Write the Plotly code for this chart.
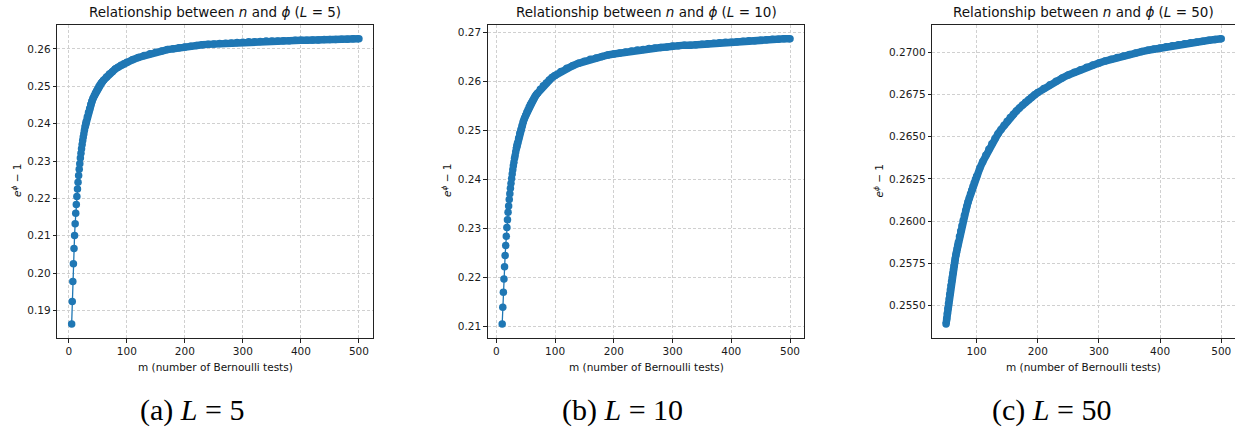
import plotly.graph_objects as go

# ---------------- data ----------------
m_a = list(range(5, 31)) + list(range(32, 61, 2)) + list(range(65, 101, 5)) + list(range(110, 501, 10))
v_a = [0.1864, 0.1924, 0.1978, 0.2025, 0.2066, 0.2101, 0.2132, 0.2160, 0.2184, 0.2205,
       0.2225, 0.2243, 0.2261, 0.2278, 0.2293, 0.2308, 0.2321, 0.2333, 0.2344, 0.2355,
       0.2364, 0.2373, 0.2382, 0.2390, 0.2398, 0.2405,
       0.2418, 0.2430, 0.2440, 0.2451, 0.2460, 0.2468, 0.2475, 0.2482, 0.2488, 0.2493,
       0.2499, 0.2504, 0.2509, 0.2512, 0.2516,
       0.2525, 0.2533, 0.2539, 0.2546, 0.2551, 0.2556, 0.2560, 0.2564,
       0.2571, 0.2577, 0.2582, 0.2587, 0.2591, 0.2594, 0.2598, 0.2600, 0.2603, 0.2605,
       0.2607, 0.2609, 0.2611, 0.2612, 0.2613, 0.2614, 0.2615, 0.2616, 0.2617, 0.2618,
       0.2619, 0.2619, 0.2620, 0.2621, 0.2621, 0.2621, 0.2622, 0.2622, 0.2623, 0.2623,
       0.2623, 0.2624, 0.2624, 0.2625, 0.2625, 0.2625, 0.2626, 0.2626, 0.2627, 0.2627]

m_b = list(range(10, 37)) + list(range(38, 71, 2)) + list(range(75, 101, 5)) + list(range(110, 501, 10))
v_b = [0.2105, 0.2139, 0.2170, 0.2197, 0.2222, 0.2245, 0.2265, 0.2284, 0.2302, 0.2318,
       0.2333, 0.2346, 0.2359, 0.2371, 0.2382, 0.2392, 0.2402, 0.2411, 0.2420, 0.2428,
       0.2435, 0.2443, 0.2449, 0.2456, 0.2462, 0.2468, 0.2474,
       0.2484, 0.2494, 0.2502, 0.2510, 0.2518, 0.2525, 0.2531, 0.2537, 0.2542, 0.2548,
       0.2553, 0.2557, 0.2561, 0.2565, 0.2569, 0.2573, 0.2576,
       0.2584, 0.2591, 0.2597, 0.2603, 0.2608, 0.2612,
       0.2620, 0.2627, 0.2632, 0.2637, 0.2641, 0.2645, 0.2648, 0.2651, 0.2654, 0.2656,
       0.2658, 0.2660, 0.2662, 0.2664, 0.2665, 0.2667, 0.2668, 0.2669, 0.2670, 0.2672,
       0.2673, 0.2674, 0.2674, 0.2675, 0.2676, 0.2677, 0.2678, 0.2679, 0.2680, 0.2680,
       0.2681, 0.2682, 0.2683, 0.2683, 0.2684, 0.2685, 0.2686, 0.2686, 0.2687, 0.2687]

m_c = list(range(50, 71)) + list(range(72, 101, 2)) + list(range(105, 201, 5)) + list(range(210, 501, 10))
v_c = [0.25390, 0.25422, 0.25453, 0.25482, 0.25511, 0.25539, 0.25566, 0.25592, 0.25618, 0.25642,
       0.25666, 0.25690, 0.25712, 0.25734, 0.25756, 0.25776, 0.25797, 0.25816, 0.25836, 0.25854,
       0.25873,
       0.25908, 0.25941, 0.25973, 0.26004, 0.26033, 0.26061, 0.26087, 0.26113, 0.26137, 0.26161,
       0.26183, 0.26205, 0.26226, 0.26246, 0.26265,
       0.26311, 0.26352, 0.26390, 0.26426, 0.26458, 0.26489, 0.26517, 0.26543, 0.26568, 0.26591,
       0.26613, 0.26633, 0.26652, 0.26670, 0.26688, 0.26704, 0.26719, 0.26734, 0.26748, 0.26761,
       0.26786, 0.26808, 0.26829, 0.26848, 0.26866, 0.26882, 0.26897, 0.26911, 0.26924, 0.26936,
       0.26948, 0.26959, 0.26969, 0.26978, 0.26987, 0.26996, 0.27004, 0.27012, 0.27019, 0.27026,
       0.27033, 0.27039, 0.27045, 0.27051, 0.27056, 0.27061, 0.27066, 0.27071, 0.27076, 0.27080]

L_values = [5, 10, 50]
captions = ["(a)", "(b)", "(c)"]
x_ticks_a = [0, 100, 200, 300, 400, 500]
x_ticks_b = [0, 100, 200, 300, 400, 500]
x_ticks_c = [100, 200, 300, 400, 500]
y_ticks_a = [0.19, 0.20, 0.21, 0.22, 0.23, 0.24, 0.25, 0.26]
y_ticks_b = [0.21, 0.22, 0.23, 0.24, 0.25, 0.26, 0.27]
y_ticks_c = [0.2550, 0.2575, 0.2600, 0.2625, 0.2650, 0.2675, 0.2700]

# ---------------- layout ----------------
W, H = 1235, 432
BLUE = "#1f77b4"
TOP, BOT = 24.5, 338.3

panels = [
    dict(m=m_a, v=v_a, box=(57.3, 373.3), xr=[-19.75, 524.75], yr=[0.182585, 0.266515],
         xt=x_ticks_a, yt=y_ticks_a, fmt=".2f", band=28, ylab_x=16, cap_x=192),
    dict(m=m_b, v=v_b, box=(487.8, 804.4), xr=[-14.5, 524.5], yr=[0.20759, 0.27161],
         xt=x_ticks_b, yt=y_ticks_b, fmt=".2f", band=34, ylab_x=446, cap_x=622),
    dict(m=m_c, v=v_c, box=(932.3, 1235.0), xr=[27.5, 522.5], yr=[0.253055, 0.271645],
         xt=x_ticks_c, yt=y_ticks_c, fmt=".4f", band=50, ylab_x=877.5, cap_x=1051),
]

fig = go.Figure()
annotations = []
tick_font = dict(family="DejaVu Sans", size=10.5, color="#1a1a1a")

for i, p in enumerate(panels):
    k = "" if i == 0 else str(i + 1)
    xa, ya = "x" + k, "y" + k
    band_idx = [j for j, mm in enumerate(p["m"]) if mm >= p["band"]]
    # dense region: overlapping markers form a continuous band
    fig.add_trace(go.Scatter(
        x=[p["m"][j] for j in band_idx], y=[p["v"][j] for j in band_idx],
        mode="lines", line=dict(color=BLUE, width=7.5), xaxis=xa, yaxis=ya,
        showlegend=False, hoverinfo="skip"))
    fig.add_trace(go.Scatter(
        x=p["m"], y=p["v"], mode="lines+markers",
        line=dict(color=BLUE, width=1.3), marker=dict(color=BLUE, size=7.5),
        xaxis=xa, yaxis=ya, showlegend=False))

    x0, x1 = p["box"]
    common = dict(showline=True, linecolor="#222222", linewidth=1, mirror=True,
                  ticks="outside", ticklen=3.5, tickwidth=0.9, tickcolor="#222222",
                  showgrid=True, gridcolor="#d0d0d0", gridwidth=0.9, griddash="3px,2px",
                  zeroline=False, tickfont=tick_font, automargin=False)
    fig.update_layout(**{
        "xaxis" + k: dict(domain=[x0 / W, min(x1 / W, 1.0)], range=p["xr"], anchor=ya,
                          tickmode="array", tickvals=p["xt"],
                          ticktext=[str(t) for t in p["xt"]], **common),
        "yaxis" + k: dict(domain=[(H - BOT) / H, (H - TOP) / H], range=p["yr"], anchor=xa,
                          tickmode="array", tickvals=p["yt"],
                          ticktext=[format(t, p["fmt"]) for t in p["yt"]], **common),
    })
    cx = (x0 + min(x1, 1235.4)) / 2
    annotations.append(dict(
        text=f"Relationship between <i>n</i> and <i>ϕ</i> (<i>L</i> = {L_values[i]})",
        x=cx / W, y=(H - TOP + 2.5) / H, xref="paper", yref="paper",
        xanchor="center", yanchor="bottom", showarrow=False,
        font=dict(family="DejaVu Sans", size=13.5, color="#111111")))
    annotations.append(dict(
        text="m (number of Bernoulli tests)", x=cx / W, y=(H - 366.5) / H,
        xref="paper", yref="paper", xanchor="center", yanchor="middle", showarrow=False,
        font=dict(family="DejaVu Sans", size=10.5, color="#111111")))
    annotations.append(dict(
        text="<i>e</i><sup><i>ϕ</i></sup> − 1", x=p["ylab_x"] / W, y=(H - 181) / H,
        xref="paper", yref="paper", xanchor="center", yanchor="middle", showarrow=False,
        textangle=-90, font=dict(family="DejaVu Sans", size=10.5, color="#111111")))
    annotations.append(dict(
        text=f"{captions[i]} <i>L</i> = {L_values[i]}", x=p["cap_x"] / W, y=(H - 410) / H,
        xref="paper", yref="paper", xanchor="center", yanchor="middle", showarrow=False,
        font=dict(family="Liberation Serif", size=30, color="#000000")))

fig.update_layout(width=W, height=H, margin=dict(l=0, r=0, t=0, b=0),
                  paper_bgcolor="white", plot_bgcolor="white",
                  annotations=annotations)

fig.write_html("out.html", config={"displayModeBar": False},
               post_script="document.body.style.margin='0px';document.body.style.overflow='hidden';")
